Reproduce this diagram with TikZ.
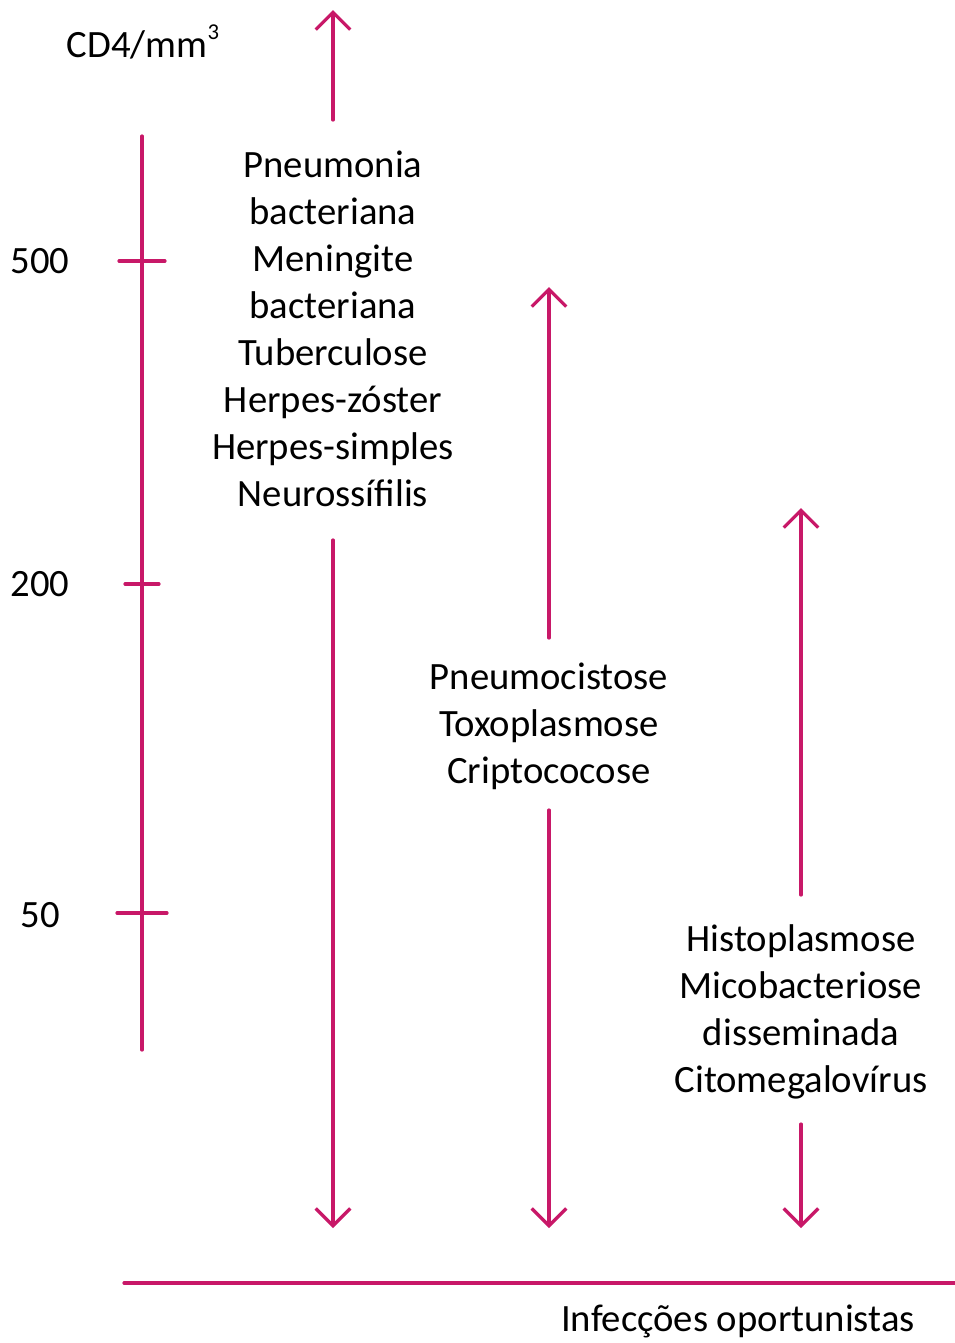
\documentclass[tikz,border=0pt]{standalone}
\usepackage{fontspec}
\setmainfont{Carlito}
\usepackage{xcolor}
\usepackage{tikz}
\usetikzlibrary{arrows.meta,positioning}

\definecolor{cdmag}{RGB}{200,24,104}

\begin{document}
\begin{tikzpicture}[x=0.75pt,y=-0.75pt,
		line/.style={cdmag,line width=2.4pt,line cap=round},
		arr/.style={line,-{Straight Barb[length=13pt,width=26pt,line width=2.4pt]}},
		lbl/.style={font=\fontsize{29}{35.25}\selectfont,inner sep=0pt,align=center}]
			
			\useasboundingbox (0,0) rectangle (954,1343);
			
			% axis and ticks
			\coordinate (atop) at (142,136);
			\coordinate (abot) at (142,1050);
			\draw[line] (atop) -- (abot);
			\node[lbl] (unit) at (143,42) {CD4/mm\raisebox{14pt}{\fontsize{17}{17}\selectfont 3}};
			\node[lbl] (v500) at (40,261) {500};
			\node[lbl] (v200) at (40,584) {200};
			\node[lbl] (v50) at (40,915) {50};
			\coordinate (t500a) at (119,261); \coordinate (t500b) at (165,261);
			\coordinate (t200a) at (125,584); \coordinate (t200b) at (159,584);
			\coordinate (t50a) at (117,913); \coordinate (t50b) at (167,913);
			\draw[line] (t500a) -- (t500b);
			\draw[line] (t200a) -- (t200b);
			\draw[line] (t50a) -- (t50b);
			
			% groups of infections
			\node[lbl] (g1) at (333,329) {Pneumonia\\bacteriana\\Meningite\\bacteriana\\Tuberculose\\Herpes-zóster\\Herpes-simples\\Neurossífilis};
			\node[lbl] (g2) at (549,726) {Pneumocistose\\Toxoplasmose\\Criptococose};
			\node[lbl] (g3) at (801,1012) {Histoplasmose\\Micobacteriose\\disseminada\\Citomegalovírus};
			
			\coordinate (g1up) at (333,10); \coordinate (g1us) at (333,120);
			\coordinate (g1dn) at (333,1228); \coordinate (g1ds) at (333,540);
			\coordinate (g2up) at (549,287); \coordinate (g2us) at (549,638);
			\coordinate (g2dn) at (549,1228); \coordinate (g2ds) at (549,810);
			\coordinate (g3up) at (801,508); \coordinate (g3us) at (801,895);
			\coordinate (g3dn) at (801,1228); \coordinate (g3ds) at (801,1124);
			
			\draw[arr] (g1us) -- (g1up);
			\draw[arr] (g1ds) -- (g1dn);
			\draw[arr] (g2us) -- (g2up);
			\draw[arr] (g2ds) -- (g2dn);
			\draw[arr] (g3us) -- (g3up);
			\draw[arr] (g3ds) -- (g3dn);
			
			% bottom axis
			\coordinate (bl) at (124,1283);
			\coordinate (br) at (960,1283);
			\draw[line] (bl) -- (br);
			\node[lbl,anchor=base] (inf) at (738,1331) {Infecções oportunistas};
			
		\end{tikzpicture}
\end{document}
